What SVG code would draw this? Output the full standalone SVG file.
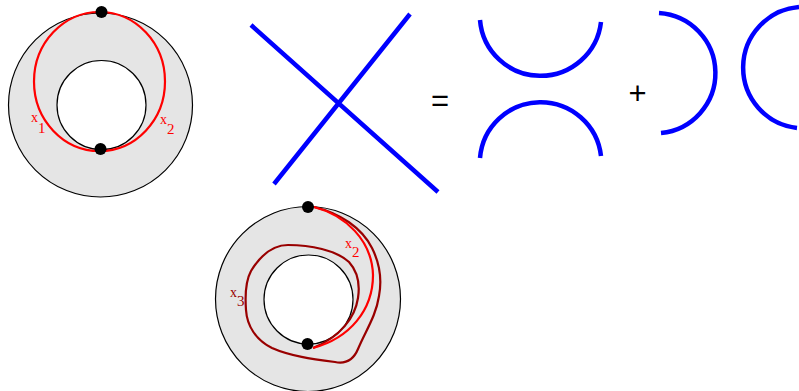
<svg xmlns="http://www.w3.org/2000/svg" width="799" height="391" viewBox="0 0 799 391">
<style>
.torus{fill:#e5e5e5;stroke:#000;stroke-width:1.2}
.hole{fill:#fff;stroke:#000;stroke-width:1.2}
.red{fill:none;stroke:#f00;stroke-width:2.2}
.dark{fill:none;stroke:#990000;stroke-width:2.2}
.blue{fill:none;stroke:#00f;stroke-width:4.5}
.l{font-family:"Liberation Serif",serif}
.s{font-family:"Liberation Sans",sans-serif;font-size:31px;fill:#000;text-anchor:middle}
.dot{fill:#000}
</style>
<rect width="799" height="391" fill="#fff"/>
<g id="torus-1">
<circle class="torus" cx="100.500" cy="105" r="92"/>
<circle class="hole" cx="101.500" cy="105" r="44.500"/>
<ellipse class="red" cx="99.500" cy="81.500" rx="65.500" ry="69.500"/>
<circle class="dot" cx="101.500" cy="12" r="6"/>
<circle class="dot" cx="100.500" cy="149" r="6"/>
<text class="l" x="31" y="122" font-size="14" fill="#f00">x</text>
<text class="l" x="38" y="133" font-size="15" fill="#f00">1</text>
<text class="l" x="160" y="124" font-size="14" fill="#f00">x</text>
<text class="l" x="167" y="134" font-size="15" fill="#f00">2</text>
</g>
<g id="torus-2">
<circle class="torus" cx="308" cy="299" r="92.500"/>
<circle class="hole" cx="308.500" cy="299.500" r="44.500"/>
<path class="dark" d="M314 207C340 213 362 228 372 248C380 264 382 280 379 296C376 316 366 330 358 349C353 361 345 364 335 362C312 359 290 356 272 348C256 340 247 326 246 310C245 296 245 282 251 271C259 258 270 245 288 245C310 245 336 250 349 262C358 272 360 285 358 298C355 318 340 337 313 348"/>
<path class="red" d="M314 207C345 215 372 240 373 275C373 310 350 338 313 348"/>
<circle class="dot" cx="308" cy="207" r="6"/>
<circle class="dot" cx="307.500" cy="344" r="6"/>
<text class="l" x="345" y="248" font-size="14" fill="#f00">x</text>
<text class="l" x="352" y="257" font-size="15" fill="#f00">2</text>
<text class="l" x="230" y="297" font-size="14" fill="#990000">x</text>
<text class="l" x="237" y="306" font-size="15" fill="#990000">3</text>
</g>
<g id="crossing">
<path class="blue" d="M251 25L438 192M410 14L274 184"/>
</g>
<g id="smoothing-a">
<path class="blue" d="M480 20A60.800 60.800 0 0 0 601 22"/>
<path class="blue" d="M480 158A60.800 60.800 0 0 1 601 156"/>
</g>
<g id="smoothing-b">
<path class="blue" d="M659 13A60.200 60.200 0 0 1 661 133"/>
<path class="blue" d="M799 7A60.800 60.800 0 0 0 797 128"/>
</g>
<text class="s" x="440" y="111">=</text>
<text class="s" x="637.500" y="104">+</text>
</svg>
